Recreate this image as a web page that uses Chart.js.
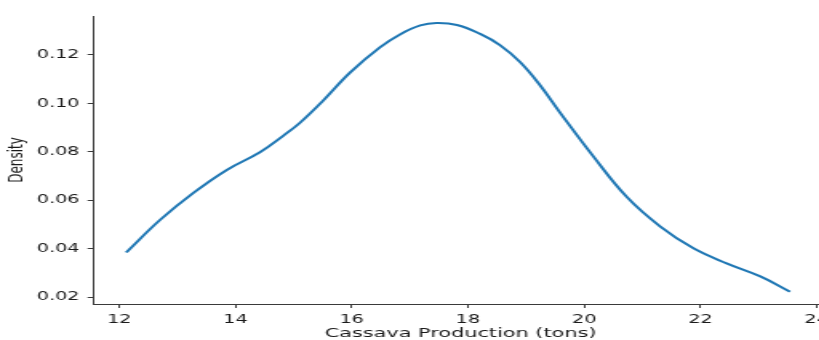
<!DOCTYPE html>
<html>
<head>
<meta charset="utf-8">
<title>Cassava Production Density</title>
<script src="https://cdn.jsdelivr.net/npm/chart.js@4/dist/chart.umd.min.js"></script>
<style>
  html, body { margin: 0; padding: 0; background: #fff; overflow: hidden; }
  #wrap { width: 517px; height: 340px; transform: scaleX(1.6); transform-origin: 0 0; }
  canvas { display: block; }
</style>
</head>
<body>
<div id="wrap"><canvas id="densityChart" width="517" height="340"></canvas></div>
<script>
'use strict';

// KDE curve
const production = [12.12, 12.70, 13.27, 13.85, 14.42, 14.82, 15.11, 15.51, 15.97, 16.49, 16.83, 17.18, 17.46,
  17.81, 18.21, 18.55, 18.90, 19.24, 19.59, 20.16, 20.73, 21.31, 21.88, 22.45, 23.03, 23.54];
const density = [0.0384, 0.0518, 0.0629, 0.0725, 0.0798, 0.0866, 0.0920, 0.1012, 0.1127, 0.1232, 0.1285, 0.1322, 0.1332,
  0.1324, 0.1287, 0.1241, 0.1170, 0.1075, 0.0960, 0.0780, 0.0614, 0.0491, 0.0401, 0.0339, 0.0285, 0.0222];

const xTicks = [12, 14, 16, 18, 20, 22, 24];
const yTicks = [0.02, 0.04, 0.06, 0.08, 0.10, 0.12];

(function () {
  const axisColor = '#3a3a3a';
  const textColor = '#1a1a1a';
  const font = { family: 'DejaVu Sans', size: 12 };

  const ctx = document.getElementById('densityChart').getContext('2d');

  new Chart(ctx, {
    type: 'line',
    data: {
      datasets: [{
        data: production.map((x, i) => ({ x: x, y: density[i] })),
        borderColor: '#1f77b4',
        borderWidth: 2,
        pointRadius: 0,
        fill: false,
        tension: 0.4
      }]
    },
    options: {
      responsive: false,
      animation: false,
      devicePixelRatio: 1,
      layout: { padding: { top: 16, left: 0, right: 0, bottom: 0 } },
      plugins: {
        legend: { display: false },
        tooltip: { enabled: false }
      },
      scales: {
        x: {
          type: 'linear',
          min: 11.565,
          max: 24.18,
          afterBuildTicks: s => { s.ticks = xTicks.map(v => ({ value: v })); },
          afterFit: s => {
            // axis runs off the right edge, like the cropped original
            s.height = 36;
            s.paddingLeft = 0;
            s.paddingRight = 0;
          },
          ticks: {
            color: textColor,
            font: font,
            padding: 5,
            maxRotation: 0,
            callback: v => String(v)
          },
          grid: {
            drawOnChartArea: false,
            drawTicks: true,
            tickLength: 4,
            color: axisColor
          },
          border: { display: true, color: axisColor, width: 1 },
          title: {
            display: true,
            text: 'Cassava Production (tons)',
            color: textColor,
            font: { family: 'DejaVu Sans', size: 13, lineHeight: 1 },
            padding: { top: 0, bottom: 0 }
          }
        },
        y: {
          min: 0.01711,
          max: 0.1361,
          afterBuildTicks: s => { s.ticks = yTicks.map(v => ({ value: v })); },
          afterFit: s => { s.width = 58.75; },
          ticks: {
            color: textColor,
            font: font,
            padding: 5,
            callback: v => v.toFixed(2)
          },
          grid: {
            drawOnChartArea: false,
            drawTicks: true,
            tickLength: 4,
            color: axisColor
          },
          border: { display: true, color: axisColor, width: 1 },
          title: {
            display: true,
            text: 'Density',
            color: textColor,
            font: font,
            padding: { top: 4, bottom: 4 }
          }
        }
      }
    }
  });
})();
</script>
</body>
</html>
